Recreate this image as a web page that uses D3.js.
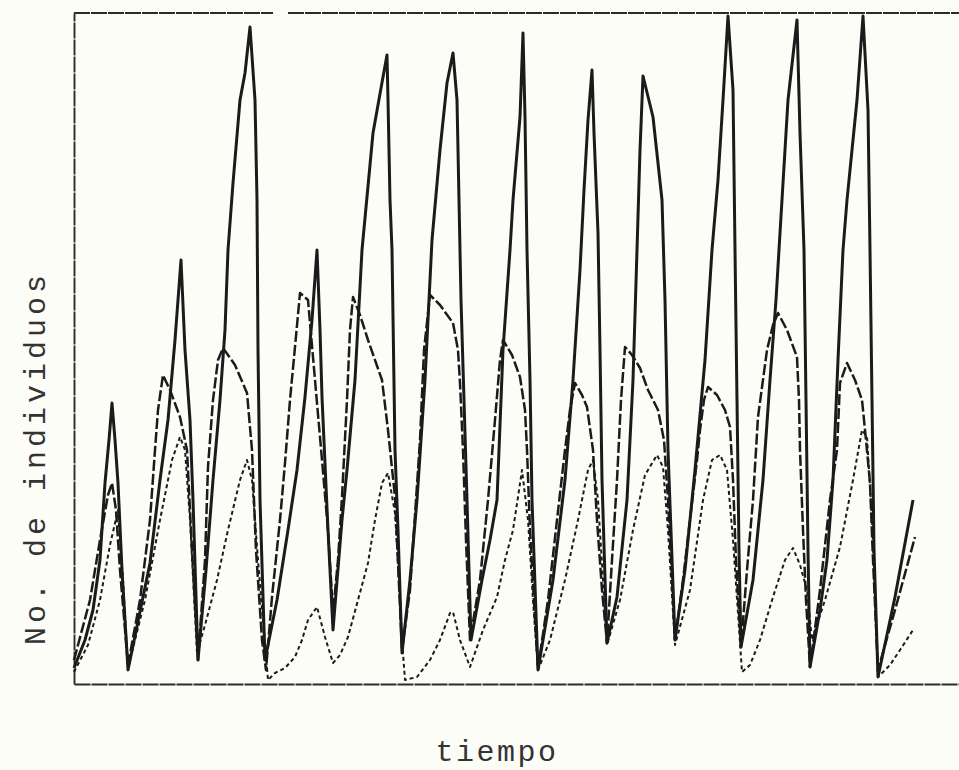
<!DOCTYPE html>
<html>
<head>
<meta charset="utf-8">
<script src="https://cdn.jsdelivr.net/npm/d3@7/dist/d3.min.js"></script>
<style>
  html, body { margin: 0; padding: 0; background: #fdfdf8; }
  svg { display: block; }
  .lbl { font-family: "Liberation Mono", "DejaVu Sans Mono", monospace; fill: #333; }
</style>
</head>
<body>
<svg id="chart" width="959" height="770"></svg>
<script>
// Population of each species over time (arbitrary units), traced as [time, count]
const tiempoSolida = [
  [0,8],[2.75,22],[4.75,37],[6.5,62],[7.75,100.5],[8.75,122],[9.5,140.5],[10.25,122],[11,100.5],[12,57],[13.5,7],
  [19,60.5],[21.5,102],[23.5,132],[25.25,172],[26.75,212],[27.75,167],[29,132],[29.75,92],[31,12],
  [33,57],[34.75,102],[36.5,142],[37.75,177],[38.5,217],[39.75,250.5],[41.5,292],[42.75,305.5],[44,328.5],[45.25,292],[45.75,242],[46,167],[46.5,92],[47.75,12],
  [50.75,42],[53.5,77],[55.75,107],[57.75,143.5],[59.5,182],[60.75,217],[61.5,177],[62,143.5],[63.5,77],[64.75,27],
  [67,82],[68.25,107],[70.25,152],[72,217],[74.75,275.5],[77.25,303.5],[78.25,314.5],[78.5,292],[79,242],[79.5,217],[80.25,117],[81,77],[82,15.5],
  [84,52],[85.75,92],[87.75,152],[89.5,222],[91.5,267],[93.25,300.5],[94.75,315.5],[95.75,292],[96.25,242],[96.75,192],[97.5,142],[98.25,92],[99.25,22],
  [102,52],[104,72],[105.75,92],[107.25,167],[109,217],[109.75,242],[111.5,283.5],[112.25,325.5],[112.75,283.5],[113.25,217],[114,152],[114.5,92],[116,7],
  [119.75,52],[122.75,102],[124.75,152],[126.5,207],[127.5,247],[128.5,282],[129.5,307],[130,275.5],[131,225.5],[131.5,167],[132,102],[133.25,20.5],
  [135.75,43.5],[138.25,92],[139.75,152],[140.75,217],[141.5,267],[142.25,304],[144.75,283.5],[147,242],[147.75,192],[148.5,117],[150.25,22],
  [152.75,57],[155.25,107],[157.75,162],[159.5,217],[161,252],[162.25,292],[163.5,334],[164.75,297],[165.25,217],[165.75,142],[166.25,67],[166.75,18.5],
  [169.75,52],[172.25,102],[174,152],[175.5,192],[176.5,225.5],[178.5,292],[180.75,332],[181.5,275.5],[182.5,217],[183,142],[183.5,67],[184,8.5],
  [186.5,37],[188.25,62],[189.75,102],[191,162],[192.25,217],[193.25,242],[195.75,292],[197.25,334],[198.5,287],[199,217],[199.5,142],[200,67],[201,3.5],
  [205.25,43.5],[209.75,92]
];

const tiempoGuiones = [
  [0,12],[4,42],[6.5,72],[8.5,94.5],[9.5,100.5],[10.5,87],[11.5,57],[13.5,9.5],
  [16.5,42],[19,82],[20.25,117],[21,137],[22.25,154.5],[24,147],[26.5,133.5],[28.25,117],[29.5,67],[31,12],
  [32.75,62],[33.5,108.5],[34.75,142],[36,162],[37.25,168],[40.25,159.5],[43.25,145.5],[44.5,117],[45.5,67],[47,22],[48,7],
  [49.5,43.5],[51.5,82],[52.75,110.5],[54,142],[55.25,168.5],[56.5,195.5],[58.5,192],[60.25,152],[62,112],[63.5,77],[64.75,35.5],
  [66,62],[67,93.5],[68.25,142],[69,177],[69.75,193.5],[71.5,184.5],[73.5,172],[77,152],[78.5,127],[80.25,93.5],[81,60.5],[82,17],
  [84,47],[85.5,92],[86.5,122],[87.5,167],[89,194.5],[91.5,189.5],[94.75,180.5],[96,167],[96.5,150.5],[97.25,117],[98,72],[99,22],
  [101.5,52],[103.5,92],[105.25,132],[106.5,162],[107.25,172],[109.5,164.5],[111.5,153.5],[112.75,137],[113.25,117],[114,77],[115.25,32],[116,8],
  [118.5,42],[120.75,82],[122.75,117],[124,137],[125.25,150.5],[127,144.5],[128.25,138.5],[129.75,117],[130.75,82],[132,47],[133.25,20.5],
  [134.5,62],[135.75,102],[136.75,142],[137.75,168.5],[139.5,164.5],[141.5,158],[143.5,147],[144.5,143],[146,137],[147.5,122],[148.5,92],[149.5,52],[150.25,22],
  [152.25,52],[154,82],[155.75,112],[156.5,127],[157.5,142],[158.5,148.5],[160.75,144.5],[162.75,137],[164,128.5],[164.75,102],[165.5,62],[166.75,18.5],
  [168.25,57],[169.75,92],[171,133.5],[173.25,167],[174.75,179.5],[176,185.5],[178.25,177],[180.75,163.5],[181.25,142],[181.5,117],[182.25,77],[183,42],[184,8.5],
  [186.5,47],[189,92],[190.75,117],[191.5,150.5],[193.25,160.5],[195.25,152],[197,142],[198,122],[199,100.5],[199.75,62],[201,7],
  [205.25,37],[210.25,73.5]
];

const tiempoPuntos = [
  [0,6],[3.5,19.5],[6.5,42],[9,69.5],[11,87],[12.25,52],[13.5,8],
  [17.75,42],[21.5,82],[24.5,112],[26.5,123.5],[27.75,117],[29,82],[30.75,15.5],
  [32.75,29.5],[35.75,52],[38.5,77],[41.5,102],[43.25,112],[44.5,102],[46,62],[48.5,2],
  [50.25,5.5],[52.75,8],[55.25,13.5],[57,22],[58.5,32],[60.75,38.5],[62.75,23.5],[64.75,10.5],
  [66.5,14.5],[68.5,23.5],[71,42],[73.5,60.5],[75.25,82],[77,100.5],[78.5,105.5],[80.25,85.5],[81,60.5],[82,22],[82.75,2],
  [85.75,3.5],[89,12],[91.5,22],[94,35.5],[94.75,36],[96.5,22],[99,8.5],
  [102.25,27],[105.75,43.5],[107.75,62],[109.75,77],[111,93.5],[112,107],[113.5,82],[114.75,42],[116,7],
  [119,22],[122.75,52],[126,82],[128.5,107],[129.75,112],[131,92],[132.25,52],[133.25,19.5],
  [136.5,42],[139.75,77],[142.75,104.5],[145.75,114.5],[147.25,108.5],[148.5,77],[150.25,19.5],
  [154,47],[157.25,92],[159.5,112],[161.5,114.5],[163.25,107],[164.75,72],[167,6],
  [169,9.5],[171.5,22],[174.75,43.5],[177.75,62],[179.75,68],[181.5,59.5],[183.25,47],[184.5,22],
  [187.75,42],[191.5,68.5],[194.75,102],[197,127],[198.25,123.5],[199.5,82],[201,3.5],
  [204,9.5],[206.5,17],[209.75,27]
];

const tituloY = "No. de individuos";
const tituloX = "tiempo";

const svg = d3.select("#chart");
const W = 959, H = 770;
const mLeft = 74, mTop = 13, mBottom = 684, mRight = 968;

const x = d3.scaleLinear().domain([0, 223.5]).range([mLeft, mRight]);
const y = d3.scaleLinear().domain([0, 335.5]).range([mBottom, mTop]);

svg.append("rect").attr("width", W).attr("height", H).attr("fill", "#fdfdf8");

// frame: left and bottom drawn by axes without ticks, top as a broken rule
const ink = "#2b2b2b";
const gx = svg.append("g").attr("transform", `translate(0,${mBottom})`)
  .call(d3.axisBottom(x).tickValues([]).tickSizeOuter(0));
const gy = svg.append("g").attr("transform", `translate(${mLeft},0)`)
  .call(d3.axisLeft(y).tickValues([]).tickSizeOuter(0));
[gx, gy].forEach(g => g.select(".domain").attr("stroke", ink).attr("stroke-width", 1.9)
  .attr("stroke-dasharray", "16,1"));

const topRule = [[0, 49.75], [53.5, 223.5]];
svg.append("g").selectAll("line").data(topRule).join("line")
  .attr("x1", d => x(d[0])).attr("x2", d => x(d[1]))
  .attr("y1", y(335.5)).attr("y2", y(335.5))
  .attr("stroke", ink).attr("stroke-width", 1.9).attr("stroke-dasharray", "16,1");

const line = d3.line().x(d => x(d[0])).y(d => y(d[1])).curve(d3.curveLinear);

const series = [
  { data: tiempoPuntos, width: 2.0, dash: "4,3" },
  { data: tiempoGuiones, width: 2.5, dash: "11,3" },
  { data: tiempoSolida, width: 3.0, dash: null }
];

svg.append("g").selectAll("path").data(series).join("path")
  .attr("d", d => line(d.data))
  .attr("fill", "none")
  .attr("stroke", "#1b1b1b")
  .attr("stroke-width", d => d.width)
  .attr("stroke-linejoin", "round")
  .attr("stroke-dasharray", d => d.dash);

svg.append("text").attr("class", "lbl")
  .attr("transform", `translate(45,458) rotate(-90)`)
  .attr("text-anchor", "middle")
  .attr("font-size", 30)
  .attr("letter-spacing", 4)
  .text(tituloY);

svg.append("text").attr("class", "lbl")
  .attr("x", 497).attr("y", 761)
  .attr("text-anchor", "middle")
  .attr("font-size", 30)
  .attr("letter-spacing", 2.5)
  .text(tituloX);
</script>
</body>
</html>
